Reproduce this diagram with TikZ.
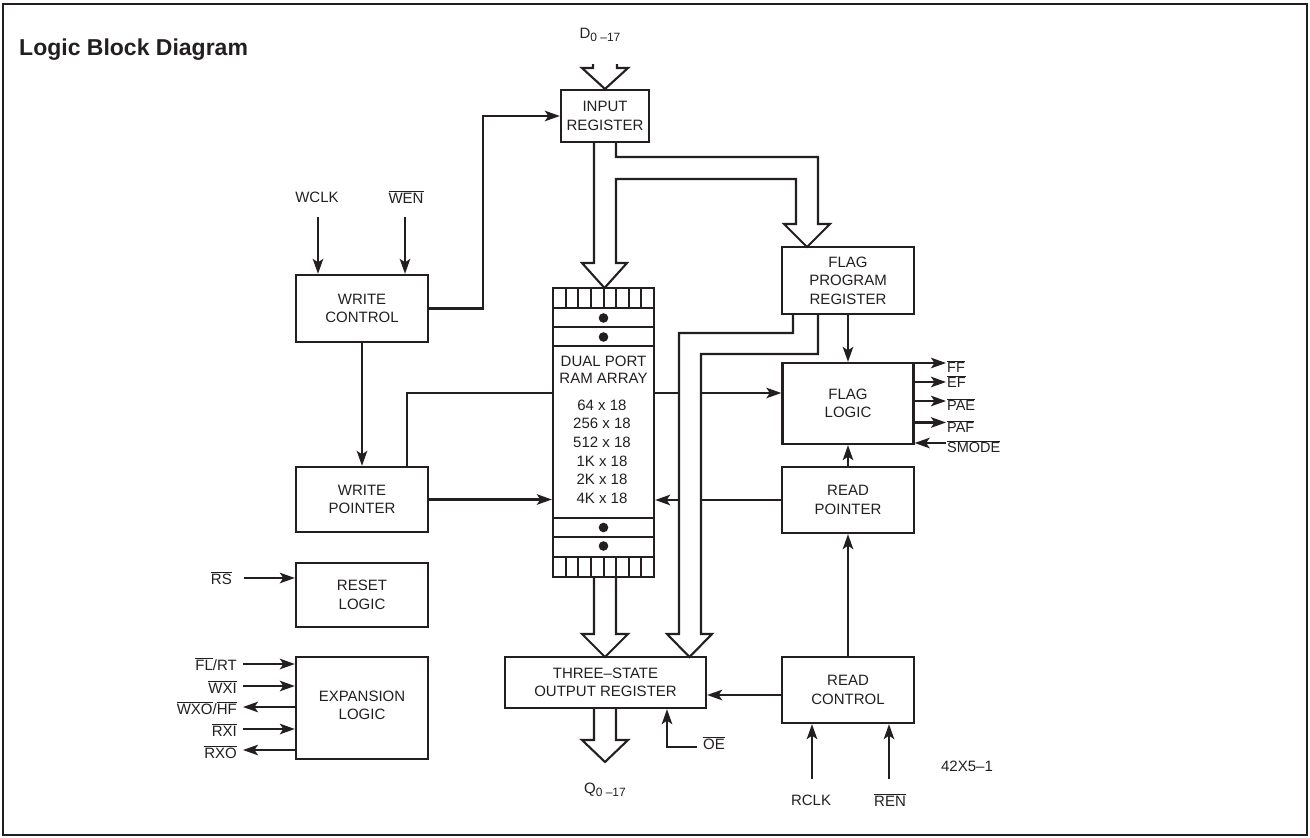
\documentclass[tikz,border=0pt]{standalone}
\usepackage{fontspec}
\setmainfont{Liberation Sans}
\usetikzlibrary{arrows.meta}
\definecolor{ink}{RGB}{35,31,32}
\newcommand{\ovl}[1]{$\overline{\mbox{#1}}$}
\newcommand{\lbfont}{\fontsize{15}{18.5}\selectfont}
\newcommand{\smfont}{\fontsize{14.5}{17}\selectfont}
\begin{document}
\begin{tikzpicture}[x=1pt,y=-1pt,
  box/.style={draw=ink, line width=2.3pt, inner sep=0pt, align=center, font=\lbfont, text=ink},
  lbl/.style={inner sep=0pt, font=\lbfont, text=ink},
  wire/.style={draw=ink, line width=2.1pt},
  arr/.style={wire, -{Stealth[length=15pt,width=10.5pt,inset=3.5pt]}},
  bus/.style={draw=ink, line width=2.1pt, line join=miter}]
\useasboundingbox (0,0) rectangle (1310,838);
\draw[ink, line width=2pt] (3,4) rectangle (1307,835);
\node[anchor=west, inner sep=0pt, text=ink, font=\fontsize{23}{26}\selectfont\bfseries] (title) at (19,50) {Logic Block Diagram};

% boxes
\node[box, minimum width=88pt, minimum height=52pt] (ir) at (605,116) {INPUT\\REGISTER};
\node[box, minimum width=132pt, minimum height=67pt] (wc) at (362,308.5) {WRITE\\CONTROL};
\node[box, minimum width=132pt, minimum height=65pt] (wp) at (362,499.5) {WRITE\\POINTER};
\node[box, minimum width=132pt, minimum height=64pt] (rl) at (362,595) {RESET\\LOGIC};
\node[box, minimum width=132pt, minimum height=102pt] (el) at (362,708) {};
\node[lbl, align=center] (elt) at (362,705.5) {EXPANSION\\LOGIC};
\node[box, minimum width=101pt, minimum height=289pt] (ram) at (603.5,432.5) {};
\node[box, minimum width=132pt, minimum height=67pt] (fpr) at (848,280.5) {FLAG\\PROGRAM\\REGISTER};
\node[box, minimum width=131pt, minimum height=81pt] (fl) at (848,403.5) {FLAG\\LOGIC};
\node[box, minimum width=132pt, minimum height=66pt] (rp) at (848,500) {READ\\POINTER};
\node[box, minimum width=201pt, minimum height=51pt] (ol) at (605.5,682.5) {THREE--STATE\\OUTPUT REGISTER};
\node[box, minimum width=132pt, minimum height=66pt] (rc) at (848,690) {READ\\CONTROL};

% RAM internals
\foreach \yy in {308,327,346,518,537,557} \draw[ink, line width=2pt] (553,\yy) -- (654,\yy);
\foreach \k in {1,...,7} {
  \draw[ink, line width=2pt] (553+12.625*\k,288) -- (553+12.625*\k,308);
  \draw[ink, line width=2pt] (553+12.625*\k,557) -- (553+12.625*\k,577);
}
\foreach \yy in {318,337,527.5,546} \fill[ink] (603.5,\yy) circle (4.8pt);
\node[lbl, align=center, font=\fontsize{15}{16.6}\selectfont] (ramt) at (603.5,370) {DUAL PORT\\RAM ARRAY};
\node[lbl, align=center, font=\fontsize{15}{18.6}\selectfont] (rams) at (602,451.7) {64 x 18\\256 x 18\\512 x 18\\1K x 18\\2K x 18\\4K x 18};

% write side
\node[lbl] (wclk) at (317,197) {WCLK};
\node[lbl] (wen) at (406,197) {\ovl{WEN}};
\coordinate (wclkin) at (318,217);
\coordinate (wenin) at (405,217);
\draw[arr] (wclkin) -- (wclkin |- wc.north);
\draw[arr] (wenin) -- (wenin |- wc.north);
\coordinate (wcir) at (483,116);
\draw[arr] (wc.east) -| (wcir) -- (ir.west);
\draw[arr] (wc.south) -- (wp.north);
\draw[arr] (wp.east) -- (ram.west |- wp.east);
\coordinate (wpram) at (407,393);
\draw[wire] (wp.north -| wpram) |- (ram.west |- wpram);
\draw[arr] (ram.east |- wpram) -- (fl.west |- wpram);
\draw[arr] (rp.west) -- (ram.east |- rp.west);

% buses
\node[lbl] (din) at (600,35) {D\raisebox{-0.35ex}{\fontsize{12}{13}\selectfont 0 --17}};
\draw[bus] (593,64) -- (593,68) -- (582,68) -- (605,89) -- (628,68) -- (617,68) -- (617,64);
\draw[bus] (594,142) -- (594,263) -- (582,263) -- (604.5,288) -- (627,263) -- (616,263) -- (616,179) -- (796,179) -- (796,224) -- (784,224) -- (807,247) -- (830,224) -- (818,224) -- (818,157) -- (616,157) -- (616,142);
\draw[bus, fill=white] (793,315) -- (793,333) -- (679,333) -- (679,634) -- (667,634) -- (689.5,657) -- (712,634) -- (701,634) -- (701,354) -- (818,354) -- (818,315);
\draw[bus] (594,577) -- (594,634) -- (582,634) -- (605,657) -- (628,634) -- (616,634) -- (616,577);
\draw[bus] (594,708) -- (594,740) -- (582,740) -- (605,762) -- (628,740) -- (616,740) -- (616,708);
\node[lbl] (qout) at (605,790) {Q\raisebox{-0.35ex}{\fontsize{12}{13}\selectfont 0 --17}};

% flag side
\draw[arr] (fpr.south) -- (fl.north);
\draw[arr] (rp.north) -- (fl.south);
\draw[arr] (rc.north) -- (rp.south);
\coordinate (ff) at (946,363);
\coordinate (ef) at (946,382);
\coordinate (pae) at (946,401);
\coordinate (paf) at (946,422.5);
\coordinate (smode) at (946,443);
\draw[arr] (fl.east |- ff) -- (ff);
\draw[arr] (fl.east |- ef) -- (ef);
\draw[arr] (fl.east |- pae) -- (pae);
\draw[arr] (fl.east |- paf) -- (paf);
\draw[arr] (smode) -- (fl.east |- smode);
\node[lbl, anchor=west, font=\smfont] (ffl) at (947,367) {\ovl{FF}};
\node[lbl, anchor=west, font=\smfont] (efl) at (947,382) {\ovl{EF}};
\node[lbl, anchor=west, font=\smfont] (pael) at (947,405) {\ovl{PAE}};
\node[lbl, anchor=west, font=\smfont] (pafl) at (947,426.5) {\ovl{PAF}};
\node[lbl, anchor=west, font=\smfont] (smodel) at (947,447) {\ovl{SMODE}};

% read control
\coordinate (rcol) at (782,695);
\draw[arr] (rc.west |- rcol) -- (ol.east |- rcol);
\coordinate (rclkin) at (812,779);
\coordinate (renin) at (889,779);
\draw[arr] (rclkin) -- (rclkin |- rc.south);
\draw[arr] (renin) -- (renin |- rc.south);
\node[lbl] (rclk) at (811,800) {RCLK};
\node[lbl] (ren) at (890,800) {\ovl{REN}};
\node[lbl] (code) at (967,766) {42X5--1};

% OE
\coordinate (oein) at (697,747);
\coordinate (oex) at (667,747);
\draw[arr] (oein) -- (oex) -- (oex |- ol.south);
\node[lbl, anchor=west] (oel) at (703,743) {\ovl{OE}};

% reset and expansion
\coordinate (rsin) at (244,578);
\draw[arr] (rsin) -- (rl.west |- rsin);
\node[lbl, anchor=east] (rsl) at (232,578) {\ovl{RS}};
\coordinate (flin) at (243,664);
\coordinate (wxiin) at (243,686);
\coordinate (wxoout) at (243,707);
\coordinate (rxiin) at (243,729);
\coordinate (rxoout) at (243,750);
\draw[arr] (flin) -- (el.west |- flin);
\draw[arr] (wxiin) -- (el.west |- wxiin);
\draw[arr] (el.west |- wxoout) -- (wxoout);
\draw[arr] (rxiin) -- (el.west |- rxiin);
\draw[arr] (el.west |- rxoout) -- (rxoout);
\node[lbl, anchor=east] (fll) at (237,664) {\ovl{FL}/RT};
\node[lbl, anchor=east] (wxil) at (237,687) {\ovl{WXI}};
\node[lbl, anchor=east] (wxol) at (237,708) {\ovl{WXO}/\ovl{HF}};
\node[lbl, anchor=east] (rxil) at (237,730) {\ovl{RXI}};
\node[lbl, anchor=east] (rxol) at (237,752) {\ovl{RXO}};
\end{tikzpicture}
\end{document}
